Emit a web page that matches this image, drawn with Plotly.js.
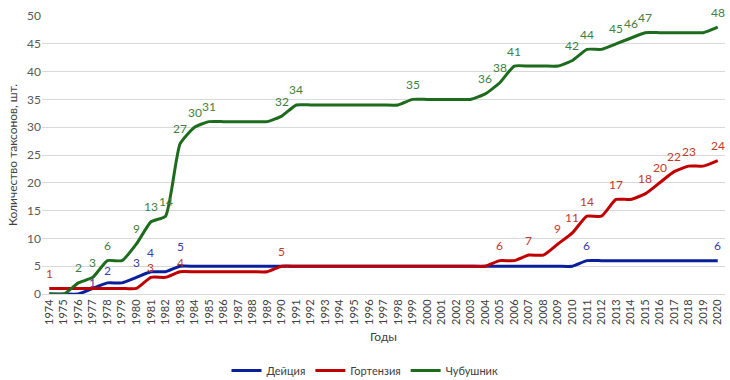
<!DOCTYPE html>
<html><head><meta charset="utf-8">
<script src="https://cdn.plot.ly/plotly-3.0.1.min.js"></script>
<style>body{margin:0;background:#fff}#c{width:730px;height:380px}</style>
</head><body><div id="c"></div>
<script>
const years = [];
for (let y = 1974; y <= 2020; y++) years.push(String(y));

const deutzia = [0,0,0,1,2,2,3,4,4,5,5,5,5,5,5,5,5,5,5,5,5,5,5,5,5,5,5,5,5,5,5,5,5,5,5,5,5,6,6,6,6,6,6,6,6,6,6];
const hydrangea = [1,1,1,1,1,1,1,3,3,4,4,4,4,4,4,4,5,5,5,5,5,5,5,5,5,5,5,5,5,5,5,6,6,7,7,9,11,14,14,17,17,18,20,22,23,23,24];
const philadelphus = [0,0,2,3,6,6,9,13,14,27,30,31,31,31,31,31,32,34,34,34,34,34,34,34,34,35,35,35,35,35,36,38,41,41,41,41,42,44,44,45,46,47,47,47,47,47,48];

const deutziaLabeled = ['1977','1978','1980','1981','1983','2011','2020'];
const hydrangeaLabeled = ['1974','1981','1983','1990','2005','2007','2009','2010','2011','2013','2015','2016','2017','2018','2020'];
const philLabeled = ['1976','1977','1978','1980','1981','1982','1983','1984','1985','1990','1991','1999','2004','2005','2006','2010','2011','2013','2014','2015','2020'];

const font = "Lato, 'Open Sans', sans-serif";
// label placement tweaks (pixels above the point), style only
const shiftOverrides = {'Дейция|1977':6, 'Дейция|1978':12, 'Дейция|1981':19, 'Дейция|1983':20, 'Гортензия|1981':10, 'Гортензия|1983':9};
const series = [
  {name:'Дейция', v:deutzia, lab:deutziaLabeled, c:'#0a1f9a', tc:'#3a3aa8'},
  {name:'Гортензия', v:hydrangea, lab:hydrangeaLabeled, c:'#c00000', tc:'#c0392b'},
  {name:'Чубушник', v:philadelphus, lab:philLabeled, c:'#1d6b1d', tc:'#3f7f3f'}
];
const traces = [];
const annotations = [];
series.forEach(s=>{
  traces.push({x:years, y:s.v, type:'scatter', mode:'lines', name:s.name,
    line:{color:s.c, width:3, shape:'spline', smoothing:0.5}, hoverinfo:'skip'});
  years.forEach((y,i)=>{
    if (s.lab.includes(y)) {
      const key = s.name + '|' + y;
      annotations.push({x:i, y:s.v[i], xref:'x', yref:'y', text:String(s.v[i]), showarrow:false,
        xanchor:'center', yanchor:'middle', yshift:(key in shiftOverrides ? shiftOverrides[key] : 15),
        font:{family:font, size:12, color:s.tc}});
    }
  });
});

const layout = {
  width:730, height:380,
  margin:{l:42, r:5, t:16, b:86},
  paper_bgcolor:'#fff', plot_bgcolor:'#fff',
  font:{family:font, color:'#595959'},
  xaxis:{type:'category', range:[-0.5,46.5], tickangle:-90, showgrid:false, automargin:false,
    tickfont:{size:11, color:'#404040'}, showline:true, linecolor:'#d9d9d9', ticks:'',
    title:{text:'Годы', font:{size:12, color:'#404040'}, standoff:8}, fixedrange:true},
  yaxis:{range:[0,50], dtick:5, showgrid:true, gridcolor:'#d9d9d9', zeroline:false, automargin:false,
    tickfont:{size:12, color:'#595959'}, ticks:'', ticklen:0,
    title:{text:'Количество таксонов, шт.', font:{size:12, color:'#404040'}, standoff:6}},
  legend:{orientation:'h', x:0.5, xanchor:'center', xref:'container', y:0.025, yanchor:'middle', yref:'container',
    font:{size:11, color:'#404040'}, tracegroupgap:0},
  annotations: annotations,
  showlegend:true
};
Plotly.newPlot('c', traces, layout, {staticPlot:true});
</script></body></html>
